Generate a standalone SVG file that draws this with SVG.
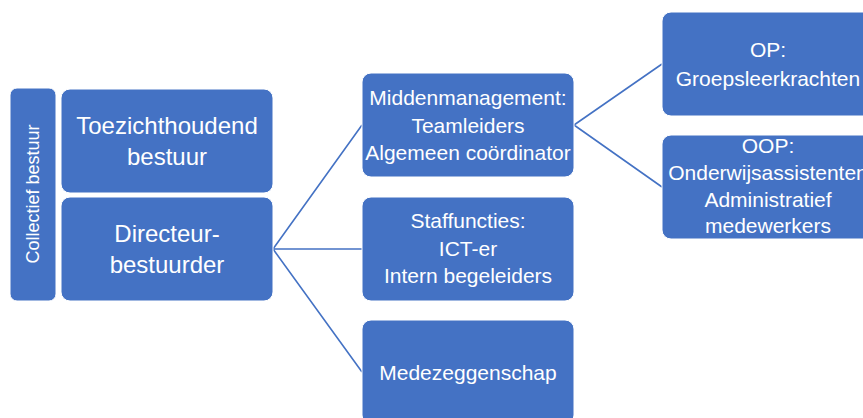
<svg xmlns="http://www.w3.org/2000/svg" width="863" height="418" viewBox="0 0 863 418">
<style>
.box{fill:#4472C4;stroke:#ffffff;stroke-width:1}
.t{fill:#ffffff;font-family:"Liberation Sans",Arial,sans-serif;text-anchor:middle}
.s21{font-size:21px}
.s24{font-size:24px}
.conn{stroke:#4472C4;stroke-width:1.6;fill:none}
</style>
<rect width="863" height="418" fill="#ffffff"/>
<g id="connectors">
<path class="conn" d="M273,249 L362,125 M273,249 L362,249 M273,249 L362,372"/>
<path class="conn" d="M574,125 L662,64 M574,125 L662,187"/>
</g>
<g id="collectief">
<rect class="box" x="10" y="88" width="46" height="213" rx="7"/>
<text class="t" style="font-size:18px" transform="translate(39,194) rotate(-90)">Collectief bestuur</text>
</g>
<g id="toezicht">
<rect class="box" x="61" y="89" width="212" height="104" rx="9"/>
<text class="t s24" x="167" y="134">Toezichthoudend</text>
<text class="t s24" x="167" y="165">bestuur</text>
</g>
<g id="directeur">
<rect class="box" x="61" y="197" width="212" height="104" rx="9"/>
<text class="t s24" x="167" y="242">Directeur-</text>
<text class="t s24" x="167" y="273">bestuurder</text>
</g>
<g id="midden">
<rect class="box" x="362" y="73" width="212" height="104" rx="9"/>
<text class="t s21" x="468" y="105">Middenmanagement:</text>
<text class="t s21" x="468" y="133">Teamleiders</text>
<text class="t s21" x="468" y="160">Algemeen coördinator</text>
</g>
<g id="staf">
<rect class="box" x="362" y="197" width="212" height="104" rx="9"/>
<text class="t s21" x="468" y="228">Staffuncties:</text>
<text class="t s21" x="468" y="256">ICT-er</text>
<text class="t s21" x="468" y="283">Intern begeleiders</text>
</g>
<g id="mede">
<rect class="box" x="362" y="320" width="212" height="104" rx="9"/>
<text class="t s21" x="468" y="380">Medezeggenschap</text>
</g>
<g id="op">
<rect class="box" x="662" y="12" width="212" height="104" rx="9"/>
<text class="t s21" x="768" y="57">OP:</text>
<text class="t s21" x="768" y="86">Groepsleerkrachten</text>
</g>
<g id="oop">
<rect class="box" x="662" y="135" width="212" height="104" rx="9"/>
<text class="t s21" x="768" y="153">OOP:</text>
<text class="t s21" x="768" y="180">Onderwijsassistenten</text>
<text class="t s21" x="768" y="207">Administratief</text>
<text class="t s21" x="768" y="233">medewerkers</text>
</g>
</svg>
